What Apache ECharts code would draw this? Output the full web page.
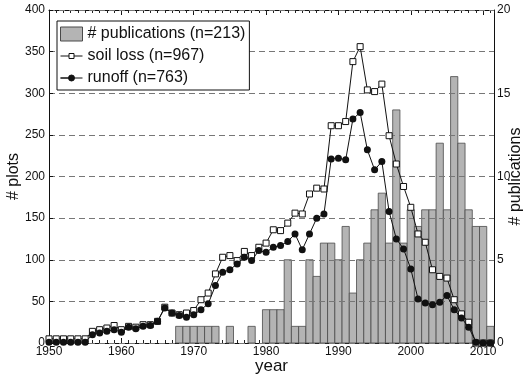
<!DOCTYPE html>
<html>
<head>
<meta charset="utf-8">
<style>
  html, body { margin: 0; padding: 0; background: #fff; }
  #chart { width: 525px; height: 376px; }
</style>
<script src="https://cdn.jsdelivr.net/npm/echarts@6/dist/echarts.min.js"></script>
</head>
<body>
<div id="chart"></div>
<script>
// Years covered by the record
const years = [];
for (let y = 1950; y <= 2011; y++) years.push(y);

// Number of plots with soil loss data, per year 1950-2011
const soilLoss = [
  5, 5, 5, 5, 5, 5, 14, 16, 18, 21,
  16, 20, 19, 22, 22, 26, 43, 36, 34, 36,
  39, 52, 60, 83, 103, 105, 99, 110, 105, 115,
  120, 136, 135, 144, 156, 155, 179, 186, 185, 261,
  261, 266, 338, 356, 304, 302, 311, 249, 215, 188,
  163, 131, 121, 88, 80, 78, 52, 35, 25, 0,
  0, 0
];

// Number of plots with runoff data, per year 1950-2011
const runoff = [
  1, 1, 1, 1, 1, 1, 10, 12, 14, 16,
  13, 19, 17, 20, 21, 26, 42, 36, 33, 31,
  34, 40, 47, 69, 85, 88, 95, 103, 99, 111,
  109, 115, 117, 122, 131, 112, 131, 150, 155, 221,
  222, 220, 269, 277, 232, 208, 218, 158, 125, 113,
  89, 53, 48, 46, 49, 57, 40, 30, 19, 1,
  0, 0
];

// Number of publications per year 1950-2011
const publications = [
  0, 0, 0, 0, 0, 0, 0, 0, 0, 0,
  0, 0, 0, 0, 0, 0, 0, 0, 1, 1,
  1, 1, 1, 1, 0, 1, 0, 0, 1, 0,
  2, 2, 2, 5, 1, 1, 5, 4, 6, 6,
  5, 7, 3, 5, 6, 8, 9, 6, 14, 6,
  8, 7, 8, 8, 12, 8, 16, 12, 8, 7,
  7, 1
];

const leftTicks = [0, 50, 100, 150, 200, 250, 300, 350, 400];
const rightTicks = [0, 5, 10, 15, 20];

const FONT = "'Liberation Sans', Arial, Helvetica, sans-serif";
const X_MIN = 1950, X_MAX = 2011.5;
const BAR_FILL = '#b4b4b4', BAR_EDGE = '#4a4a4a';

// Legend glyphs: short line with a small marker in the middle
const ICON_SQUARE = 'path://M0,2.5 L8.5,2.5 M8.5,0 L13.5,0 L13.5,5 L8.5,5 Z M13.5,2.5 L22,2.5';
const ICON_DOT = 'path://M0,3 L8,3 A3,3 0 1 1 14,3 A3,3 0 1 1 8,3 Z M14,3 L22,3';

const pubData = years.map((y, i) => [y, publications[i]]).filter(d => d[1] > 0);
const soilData = years.map((y, i) => [y, soilLoss[i]]);
const runoffData = years.map((y, i) => [y, runoff[i]]);

const chart = echarts.init(document.getElementById('chart'), null, { renderer: 'canvas' });

function xAxisDef(opts) {
  return Object.assign({
    type: 'value', min: X_MIN, max: X_MAX,
    axisLine: { show: true, onZero: false, lineStyle: { color: '#111', width: 1 } },
    axisTick: { show: true, inside: true, length: 5, lineStyle: { color: '#111' } },
    axisLabel: { show: false },
    splitLine: { show: false }
  }, opts);
}

// One-year-wide column per publication count, placed through the axis scales
function renderPubBar(params, api) {
  const year = api.value(0);
  const count = api.value(1);
  const topLeft = api.coord([year - 0.5, count]);
  const bottomRight = api.coord([year + 0.5, 0]);
  return {
    type: 'rect',
    shape: {
      x: topLeft[0], y: topLeft[1],
      width: bottomRight[0] - topLeft[0],
      height: bottomRight[1] - topLeft[1]
    },
    style: { fill: BAR_FILL, stroke: BAR_EDGE, lineWidth: 0.8 }
  };
}

const option = {
  animation: false,
  backgroundColor: '#fff',
  grid: { left: 49, right: 31, top: 10, bottom: 33, containLabel: false, outerBoundsMode: 'none' },
  legend: {
    orient: 'vertical',
    left: 57, top: 21,
    padding: [5, 4, 4, 3],
    itemGap: 6,
    itemWidth: 22, itemHeight: 14,
    symbolKeepAspect: true,
    backgroundColor: '#fff',
    borderColor: '#111', borderWidth: 1,
    textStyle: { fontFamily: FONT, fontSize: 16, color: '#111' },
    data: [
      { name: '# publications (n=213)', icon: 'rect', itemStyle: { color: BAR_FILL, borderColor: BAR_EDGE, borderWidth: 1 } },
      { name: 'soil loss (n=967)', icon: ICON_SQUARE, itemStyle: { color: '#fff', borderColor: '#111', borderWidth: 1 } },
      { name: 'runoff (n=763)', icon: ICON_DOT, itemStyle: { color: '#111', borderColor: '#111', borderWidth: 1 } }
    ]
  },
  xAxis: [
    xAxisDef({
      position: 'bottom', interval: 10,
      name: 'year', nameLocation: 'middle', nameGap: 15, nameMoveOverlap: false,
      nameTextStyle: { fontFamily: FONT, fontSize: 17, color: '#111', verticalAlign: 'top' },
      axisLabel: {
        show: true, margin: 3, showMaxLabel: false,
        fontFamily: FONT, fontSize: 12, color: '#111',
        formatter: v => String(v)
      }
    }),
    xAxisDef({ position: 'bottom', interval: 1, axisLine: { show: false, onZero: false }, axisTick: { show: true, inside: true, length: 3, lineStyle: { color: '#222' } } }),
    xAxisDef({ position: 'top', interval: 10 }),
    xAxisDef({ position: 'top', interval: 1, axisLine: { show: false, onZero: false }, axisTick: { show: true, inside: true, length: 3, lineStyle: { color: '#222' } } })
  ],
  yAxis: [
    {
      type: 'value', position: 'left', min: leftTicks[0], max: leftTicks[leftTicks.length - 1],
      interval: leftTicks[1] - leftTicks[0],
      z: 3,
      name: '# plots', nameLocation: 'middle', nameGap: 27, nameMoveOverlap: false,
      nameTextStyle: { fontFamily: FONT, fontSize: 16, color: '#111' },
      axisLine: { show: true, onZero: false, lineStyle: { color: '#111' } },
      axisTick: { show: true, inside: true, length: 4, lineStyle: { color: '#111' } },
      axisLabel: { margin: 4, fontFamily: FONT, fontSize: 12, color: '#111' },
      splitLine: { show: true, lineStyle: { color: '#777', type: [6, 4], width: 1 } }
    },
    {
      type: 'value', position: 'right', min: rightTicks[0], max: rightTicks[rightTicks.length - 1],
      interval: rightTicks[1] - rightTicks[0],
      name: '# publications', nameLocation: 'middle', nameGap: 14, nameMoveOverlap: false,
      nameRotate: 90,
      nameTextStyle: { fontFamily: FONT, fontSize: 16, color: '#111' },
      axisLine: { show: true, onZero: false, lineStyle: { color: '#111' } },
      axisTick: { show: true, inside: true, length: 4, lineStyle: { color: '#111' } },
      axisLabel: { margin: 3, fontFamily: FONT, fontSize: 12, color: '#111' },
      splitLine: { show: false }
    }
  ],
  series: [
    {
      name: '# publications (n=213)',
      type: 'custom', xAxisIndex: 0, yAxisIndex: 1,
      z: 1,
      renderItem: renderPubBar,
      itemStyle: { color: BAR_FILL, borderColor: BAR_EDGE },
      encode: { x: 0, y: 1 },
      data: pubData
    },
    {
      name: 'soil loss (n=967)',
      type: 'line', xAxisIndex: 0, yAxisIndex: 0,
      z: 5,
      symbol: 'rect', symbolSize: 6, showAllSymbol: true,
      lineStyle: { color: '#111', width: 1 },
      itemStyle: { color: '#fff', borderColor: '#111', borderWidth: 1 },
      data: soilData
    },
    {
      name: 'runoff (n=763)',
      type: 'line', xAxisIndex: 0, yAxisIndex: 0,
      z: 6,
      symbol: 'circle', symbolSize: 7, showAllSymbol: true,
      lineStyle: { color: '#111', width: 1 },
      itemStyle: { color: '#111', borderColor: '#111', borderWidth: 0 },
      data: runoffData
    }
  ]
};

chart.setOption(option);
</script>
</body>
</html>
